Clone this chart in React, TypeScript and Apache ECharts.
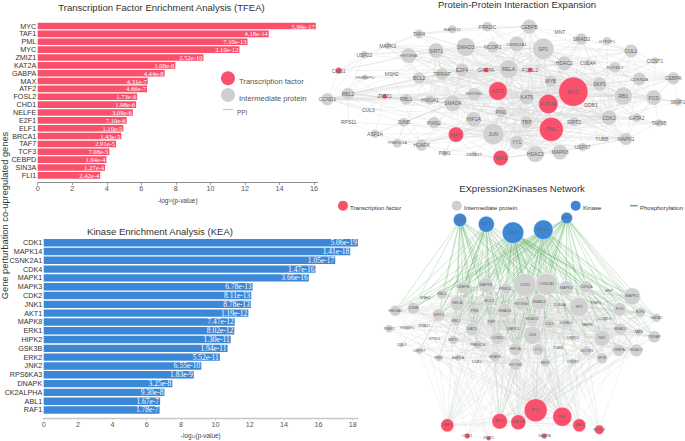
import React, { useEffect, useRef } from "react";
import * as echarts from "echarts";

// ---------- bar chart data ----------
const tfeaNames = ["MYC","TAF1","PML","MYC","ZMIZ1","KAT2A","GABPA","MAX","ATF2","FOSL2","CHD1","NELFE","E2F1","ELF1","BRCA1","TAF7","TCF3","CEBPD","SIN3A","FLI1"];
const tfeaValues = [16.1,13.38,12.15,11.68,9.6,7.97,7.35,6.37,6.33,5.76,5.7,5.51,5.15,4.96,4.84,4.54,4.15,3.98,3.9,3.62];
const tfeaP = ["5.99e-17","4.18e-14","7.10e-13","2.10e-12","2.52e-10","1.08e-8","4.44e-8","4.31e-7","4.66e-7","1.73e-6","1.98e-6","3.09e-6","7.10e-6","1.10e-5","1.43e-5","2.91e-5","7.08e-5","1.04e-4","1.27e-4","2.42e-4"];

const keaNames = ["CDK1","MAPK14","CSNK2A1","CDK4","MAPK1","MAPK3","CDK2","JNK1","AKT1","MAPK8","ERK1","HIPK2","GSK3B","ERK2","JNK2","RPS6KA3","DNAPK","CK2ALPHA","ABL1","RAF1"];
const keaValues = [18.3,17.85,16.98,15.83,15.44,12.17,12.09,12.06,11.92,11.13,11.1,10.89,10.71,10.26,9.18,8.74,7.49,7.03,6.78,6.75];
const keaP = ["5.06e-19","1.41e-18","1.05e-17","1.47e-16","3.66e-16","6.78e-13","8.11e-13","8.78e-13","1.19e-12","7.47e-12","8.02e-12","1.30e-11","1.94e-11","5.52e-11","6.55e-10","1.83e-9","3.25e-8","9.30e-8","1.67e-7","1.78e-7"];

// ---------- network data: [protein, layout x, layout y, weight] ----------
type Node = [string, number, number, number];
const ppiFactors: Node[] = [
  ["MYC",760,275,88],["PML",694,388,72],["KAT2A",685,312,58],["ATF2",534,273,56],["MAX",408,404,46],
  ["TAF1",542,474,46],["CHD1",56,212,20],["ZMIZ1",194,289,16],["GABPA",498,210,16],["FOSL2",630,210,16],
];
const ppiIntermediates: Node[] = [
  ["SP1",670,147,64],["SMAD3",437,141,56],["RELA",566,207,56],["JUN",520,402,64],["CEBPB",628,80,44],
  ["PRKDC",502,80,30],["MAPK11",397,88,26],["TAF4",297,102,28],["MAPK3",203,137,22],["USP22",133,164,24],
  ["HIST1H3A",266,167,46],["SIRT1",348,152,46],["NCOR1",518,142,36],["CSNK2A1",590,132,46],["MNT",720,96,4],
  ["SMAD2",784,117,36],["GTF2F1",861,123,26],["CUL1",933,153,40],["CCNT1",1005,182,22],["HDAC2",733,190,44],
  ["CUL4A",804,188,20],["RUVBL2",885,202,34],["CDKN2A",958,237,40],["CEBPA",1060,235,38],["SKP1",839,252,42],
  ["MYB",692,244,36],["TRRAP",366,222,38],["E2F4",426,210,40],["BCL2",297,234,36],["MSH2",215,222,4],
  ["HNRNPU",135,232,18],["RBL2",84,282,38],["CCND1",22,298,38],["RBL1",259,298,34],["HMGA1",330,300,30],
  ["SMAD4",398,310,50],["HIST1H4S",462,283,40],["KAT5",620,291,46],["PIN1",543,336,34],["RB1",910,288,54],
  ["FOS",1001,293,46],["SNIP1",1074,306,24],["DDB1",813,314,4],["CDK2",867,353,46],["GATA2",950,353,28],
  ["TAF9B",1017,369,24],["SIRT2",762,365,30],["TBP",620,367,38],["HIF1A",461,358,46],["PIAS2",342,368,36],
  ["JUNB",251,367,28],["CUL3",145,330,4],["RPS11",86,366,4],["ASF1A",165,401,26],["PPARGC1A",232,430,28],
  ["H2AFX",305,435,36],["PIM1",374,460,18],["ZBTB17",462,462,18],["YY1",590,427,42],["HDAC3",646,462,50],
  ["MAPK8",720,456,46],["USP37",788,441,26],["TUBB",846,418,4],["MAPK1",918,417,38],
];
const e2kKinases: Node[] = [
  ["CDK4",460,220,13.3],["AKT1",486.3,224.3,16],["CDK1",513,232.7,21.5],["MAPK14",543.3,229.7,19.5],["JNK1",566.7,218,11.5],
];
const e2kFactors: Node[] = [
  ["MYC",535.7,410.3,23],["PML",562.3,416.7,19],["ATF2",499.7,421.3,15.5],["KAT2A",518.3,422.3,15],["MAX",579.3,425.3,13],
  ["TAF1",447.3,425.3,13],["FOSL2",599.3,429.7,9.5],["CHD1",467.3,436,5.5],["ZMIZ1",488.7,438.3,4.5],["GABPA",544.3,436,5.5],
];
const e2kIntermediates: Node[] = [
  ["CDK2",525,285,23],["CSNK2A1",546.7,284.3,22],["MAPK3",566.3,288,14.5],["CDKN2A",586,286.7,12],["MNT",609.3,291,2],
  ["MAPK1",632,296.3,17],["FOS",619.7,309.3,13.5],["E2F4",640.3,312.3,10],["GATA2",656.3,317.7,9],["SP1",579,307,19],
  ["SNIP1",595.7,302.7,4],["CUL4A",559.7,304.7,5],["SMAD3",539,302,16],["HIST1H3A",521,303.7,13],["SMAD4",504.7,310.7,14],
  ["HDAC3",532.3,319,12],["CUL1",549.3,323.7,10],["RUVBL2",566,323.3,9],["TAF9B",587,325.3,5],["CCNT1",604.7,319.3,6],
  ["SMAD2",620.3,329.3,12],["TAF4",638.7,332,7.5],["TRRAP",654.3,336.7,12],["RB1",602,338.3,16],["USP22",573,338.3,6],
  ["JUN",532.3,335.3,18],["MAPK11",513.3,329,8],["CCND1",497.3,338.3,12.5],["HIF1A",515.3,349.3,12.5],["YY1",538,349.7,12],
  ["TUBB",558,347.7,3],["NCOR1",586.7,351,10],["CEBPA",618.7,350.3,12],["HDAC2",636.3,350.3,12.5],["MYB",602,358.3,11],
  ["H2AFX",495,356.7,10.5],["HIST1H4S",515.7,364.3,12.5],["SKP1",545.3,362.7,9],["GTF2F1",572.7,361.7,7],
  ["HMGA1",395.3,310.7,11],["JUNB",413.3,308.3,12],["SIRT1",438.7,315,12.5],["RELA",457.3,303.3,15],["PIN1",474.7,310.7,9.5],
  ["BCL2",489.3,300.7,11],["RBL1",456,321.3,9],["KAT5",472,329.3,13],["TBP",491.3,322,10],["SIRT2",453.3,340,9],
  ["RPS11",434.7,339.3,2],["ASF1A",458,357.7,7],["PIM1",438.7,358,7],["USP37",419.3,350.7,7],["CUL3",401.3,345,5],
  ["PIAS2",389,328.7,8],["HNRNPU",407.3,328.3,4],["ZBTB17",424,326,4],["PPARGC1A",477.7,344.7,9],["DDB1",476.7,362.3,2],
  ["MSH2",425.3,298.3,4],["RBL2",442,294.3,10],["CEBPB",463,287.3,12.5],["MAPK8",485.7,285.3,15],["PRKDC",506,288.7,11],
];

// Interactions: the first protein of each row is linked to each of the others.
const ppiRows = [
  "MYC SP1 SMAD3 RELA HDAC2 HDAC3 SKP1 MYB RB1 FOS CDK2 TBP JUN YY1 KAT5 KAT2A PML PIN1 MAX TAF1 SMAD2 CUL1 CDKN2A CEBPA CEBPB SIRT1 E2F4 SMAD4 TRRAP BCL2 NCOR1 CSNK2A1 PRKDC CCNT1 RUVBL2 MAPK1 TUBB USP37 GTF2F1 CUL4A SNIP1 GATA2 HMGA1 HIST1H4S ATF2 CCND1 H2AFX",
  "PML SP1 SMAD3 RELA HDAC3 HDAC2 TBP JUN YY1 KAT5 KAT2A SIRT1 SIRT2 MAPK1 CDK2 RB1 FOS SKP1 SMAD4 PIAS2 HIF1A ATF2 TAF1 MAX CEBPB CSNK2A1 E2F4 BCL2 NCOR1 TAF9B MAPK8 GATA2 USP37 CUL1 PPARGC1A HIST1H3A",
  "KAT2A SP1 SMAD3 RELA JUN TBP YY1 HDAC3 HDAC2 KAT5 ATF2 MAX TAF1 CEBPB E2F4 MYB SMAD2 SMAD4 TRRAP FOS CDK2 PIN1 H2AFX HIST1H4S HIST1H3A TAF4 TAF9B RUVBL2 CUL4A SKP1 NCOR1",
  "ATF2 JUN SMAD3 SMAD4 SMAD2 CEBPB CEBPA RELA HDAC3 TBP FOS MAPK8 MAPK1 SP1 PIN1 HIF1A E2F4 RB1 BCL2 HMGA1 SIRT1 MAX PIAS2",
  "JUN SP1 SMAD3 SMAD4 RELA FOS TBP YY1 HDAC3 HDAC2 CDK2 RB1 SMAD2 MAPK8 MAPK1 HIF1A PIN1 E2F4 JUNB MAX TAF1 CCND1 H2AFX PIM1 ZBTB17 PIAS2 PPARGC1A ASF1A HMGA1 TUBB USP37 SIRT1 SIRT2 MAPK3 RBL1 CSNK2A1 KAT5 CEBPB",
  "SP1 SMAD3 SMAD4 SMAD2 RELA HDAC2 HDAC3 TBP YY1 FOS CDK2 RB1 SKP1 E2F4 CEBPB CEBPA NCOR1 CSNK2A1 SIRT1 HIF1A PRKDC GATA2 RBL1 MAPK1 TAF1 CDKN2A",
  "RELA SMAD3 SMAD4 HDAC2 HDAC3 TBP YY1 CEBPB CEBPA NCOR1 SIRT1 E2F4 CSNK2A1 PRKDC TRRAP BCL2 PIN1 HIF1A FOS MAPK3 MAPK1 HMGA1 HIST1H3A RBL2 SKP1 CUL1 CCND1 USP22 RBL1 GABPA",
  "SMAD3 SMAD4 SMAD2 HDAC3 HDAC2 E2F4 TRRAP CEBPB FOS MAPK3 MAPK1 MAPK8 CDK2 SIRT1 NCOR1 PRKDC RBL1 RBL2 SKP1 CUL1 TAF4 USP22 HMGA1 TBP HIF1A PIAS2 BCL2",
  "SMAD4 E2F4 TRRAP HDAC3 SKP1 MAPK3 MAPK1 RBL1 RBL2 CDK2 HIF1A SMAD2 PIAS2 JUNB CCND1 TBP HMGA1 SIRT1 BCL2 HIST1H4S H2AFX ASF1A",
  "HDAC3 HDAC2 NCOR1 SIRT1 SIRT2 RB1 RBL1 RBL2 E2F4 TBP YY1 CDK2 HIF1A MAPK8 CEBPB PIN1 TAF1 KAT5 HIST1H4S CUL4A DDB1 MAPK1",
  "HDAC2 NCOR1 RB1 RBL1 RBL2 E2F4 SIRT1 CCND1 CDK2 TBP YY1 CDKN2A SKP1 CUL1 SMAD2 MYB GATA2 CEBPA CUL4A DDB1 CCNT1",
  "CDK2 RB1 RBL1 RBL2 CCND1 CDKN2A E2F4 SKP1 CUL1 CUL3 CUL4A TBP TUBB USP37 MAPK1 FOS PIN1 BCL2 HIF1A GTF2F1 CCNT1 MAPK3 PIM1 SNIP1 TAF9B RUVBL2 DDB1 GATA2 SIRT2",
  "RB1 E2F4 RBL1 RBL2 CCND1 CDKN2A SKP1 CUL1 TBP FOS GATA2 MYB CEBPA SMAD2 HMGA1 TAF4 RUVBL2 SNIP1",
  "MAPK1 MAPK3 MAPK8 FOS CSNK2A1 GATA2 SMAD2 TUBB HIF1A PRKDC CEBPB CDKN2A TAF9B USP37 RPS11",
  "TBP GTF2F1 TAF1 TAF4 TAF9B YY1 HMGA1 KAT5 MAX FOS CCNT1 TRRAP CEBPA GATA2 CSNK2A1 NCOR1 SMAD2",
  "CSNK2A1 CEBPB PRKDC SIRT1 HIST1H3A NCOR1 RUVBL2 TAF1 MAX CUL1 SKP1 HMGA1 E2F4 MYB",
  "SKP1 CUL1 CUL3 CUL4A CCND1 CDKN2A MYB RUVBL2 SMAD2 E2F4 TUBB DDB1 FOSL2",
  "FOS SMAD2 CEBPA CDKN2A TBP SNIP1 GATA2 TAF9B RUVBL2 CCNT1 MAPK3",
  "TAF1 TAF4 YY1 MAX HIF1A KAT5 MAPK8 PIM1 ZBTB17 H2AFX PIN1 CDK2 USP37",
  "MAX YY1 H2AFX HIF1A PIAS2 JUNB PPARGC1A E2F4 KAT5 SIRT1 ZBTB17 PIM1",
  "SIRT1 HIST1H3A HIST1H4S TRRAP E2F4 MAPK3 USP22 BCL2 HMGA1 HIF1A TAF4 PPARGC1A CHD1 MSH2 PIAS2",
  "KAT5 TRRAP RUVBL2 E2F4 HIST1H4S SIRT2 HIF1A CCND1 H2AFX YY1 PIN1 FOSL2",
  "CCND1 RBL2 RBL1 E2F4 HMGA1 CUL3 BCL2 JUNB USP22 ZMIZ1 CHD1 HNRNPU",
  "RBL2 RBL1 E2F4 HMGA1 BCL2 HNRNPU USP22 RPS11 CUL3",
  "BCL2 E2F4 TRRAP HIST1H3A MAPK3 HMGA1 RBL1 MAPK8 PIN1 MSH2 HNRNPU",
  "HIST1H4S HIST1H3A H2AFX ASF1A PIAS2 HMGA1 JUNB ZMIZ1 PIM1",
  "H2AFX PPARGC1A ASF1A JUNB MSH2 PIM1",
  "PPARGC1A HIF1A CEBPB JUNB ASF1A RPS11",
  "CEBPB CEBPA PRKDC MAPK11 TAF4 GABPA FOSL2 MNT",
  "CUL1 CUL4A CCNT1 GTF2F1 SMAD2 RUVBL2 MNT CDKN2A",
  "CEBPA GTF2F1 CDKN2A GATA2 SNIP1",
  "YY1 USP37 TUBB MAPK8 SIRT2 HIF1A DDB1",
  "TAF4 USP22 MAPK11 MAPK3 PRKDC",
  "MYB CCNT1 SNIP1 SIRT2 NCOR1 TUBB",
  "E2F4 CHD1 GABPA FOSL2 TRRAP HNRNPU",
  "CHD1 USP22 HIST1H3A MAPK3 ZMIZ1",
  "ZMIZ1 RBL1 RPS11 HMGA1 ASF1A",
];

const phosphoRows = [
  "CDK4 HMGA1 JUNB SIRT1 RBL1 RBL2 RELA CEBPB KAT5 PIN1 BCL2 TBP SMAD4 SMAD3 CDK2 CCND1 HIF1A MAPK8 RB1 TAF1 PPARGC1A PRKDC MAPK3 SP1",
  "AKT1 HMGA1 JUNB SIRT1 RELA RBL2 RBL1 CEBPB MAPK8 BCL2 SMAD4 SMAD3 KAT5 TBP HDAC3 SP1 FOS CUL4A CDK2 HIF1A TAF1 MAX ATF2 PIM1 USP37 SIRT2 CSNK2A1 MAPK1 PRKDC",
  "CDK1 HMGA1 JUNB SIRT1 RELA RBL1 RBL2 CEBPB MAPK8 PRKDC CDK2 CSNK2A1 MAPK3 CDKN2A MNT MAPK1 FOS E2F4 GATA2 SP1 SNIP1 SMAD3 SMAD4 HIST1H3A HDAC3 CUL1 RUVBL2 TBP PIN1 BCL2 KAT5 JUN YY1 HIF1A CCND1 RB1 SMAD2 TAF4 TRRAP MYB ATF2 KAT2A MYC PML TAF1 FOSL2",
  "MAPK14 JUNB SIRT1 RELA RBL1 CEBPB MAPK8 CDK2 CSNK2A1 MAPK3 CDKN2A MAPK1 FOS E2F4 GATA2 SP1 SMAD3 SMAD4 HIST1H4S HDAC3 CUL4A TBP PIN1 KAT5 JUN HIF1A RB1 TRRAP SMAD2 ATF2 MYC PML MAX FOSL2 TAF1 USP22 CEBPA HDAC2 SKP1 PRKDC HMGA1 RBL2",
  "JNK1 SIRT1 RELA CEBPB MAPK8 PRKDC CDK2 CSNK2A1 MAPK3 CDKN2A MAPK1 FOS E2F4 GATA2 TRRAP SP1 SMAD4 HDAC3 JUN YY1 HIF1A RB1 SMAD2 ATF2 PML FOSL2 MAX BCL2 TBP KAT5 H2AFX RBL2 JUNB",
];

const RED = "#f9506c";
const GRAY = "#d1d1d1";
const BLUE = "#3d88d6";
const GREEN = "#5cae63";

function parseRows(rows: string[]) {
  const pairs: [string, string][] = [];
  const seen = new Set<string>();
  rows.forEach((row) => {
    const [hub, ...others] = row.split(" ");
    others.forEach((o) => {
      const k = [hub, o].sort().join("|");
      if (!seen.has(k) && hub !== o) { seen.add(k); pairs.push([hub, o]); }
    });
  });
  return pairs;
}

function nodeItems(list: Node[], color: string, scale: number, big: number[]) {
  return list.map(([name, x, y, w]) => ({
    name,
    value: [x, y],
    symbolSize: w * scale,
    itemStyle: { color, borderColor: "#ffffff", borderWidth: 0.4 },
    label: {
      show: true,
      position: "inside",
      color: "#666666",
      fontFamily: "Liberation Sans",
      fontSize: name.length >= 8 ? big[2] : name.length >= 6 ? big[1] : big[0],
    },
  }));
}

function linkItems(pairs: [string, string][], names: Set<string>, color: string, width: number, opacity: number) {
  return pairs
    .filter(([a, b]) => names.has(a) && names.has(b))
    .map(([source, target]) => ({ source, target, lineStyle: { color, width, opacity, curveness: 0 } }));
}

function barParts(grid: number, names: string[], values: number[], ps: string[], color: string, max: number, offset: number, axisColor: string, axisWidth: number, labelSize: number) {
  return {
    x: {
      type: "value", gridIndex: grid, min: 0, max, interval: 2, offset,
      splitLine: { show: false },
      axisLine: { show: true, lineStyle: { color: axisColor, width: axisWidth } },
      axisTick: { show: true, length: 2.5, lineStyle: { color: axisColor, width: 0.8 } },
      axisLabel: { color: "#555555", fontSize: 7.2, margin: 2.5, fontFamily: "Liberation Sans", showMaxLabel: false },
      name: "{a|-log}{s|10}{a|(p-value)}",
      nameLocation: "middle",
      nameGap: 14.5,
      nameTextStyle: {
        rich: {
          a: { fontSize: 6.4, color: "#444444", fontFamily: "Liberation Sans" },
          s: { fontSize: 3.6, color: "#444444", fontFamily: "Liberation Sans", verticalAlign: "bottom" },
        },
      },
    },
    y: {
      type: "category", gridIndex: grid, inverse: true, data: names,
      axisLine: { show: false }, axisTick: { show: false },
      axisLabel: { color: "#333333", fontSize: 7.2, margin: 1.5, fontFamily: "Liberation Sans", interval: 0 },
    },
    series: {
      type: "bar", xAxisIndex: grid, yAxisIndex: grid, data: values, barWidth: "84%",
      itemStyle: { color }, silent: true,
      label: {
        show: true, position: "insideRight", distance: 1, color: "#ffffff",
        fontSize: labelSize, fontFamily: "Liberation Serif",
        formatter: (p: any) => ps[p.dataIndex],
      },
    },
  };
}

const hiddenAxis = (gridIndex: number, min: number, max: number, inverse = false) => ({
  type: "value", gridIndex, min, max, inverse, show: false, splitLine: { show: false },
});

export default function App() {
  const ref = useRef<HTMLDivElement>(null);
  useEffect(() => {
    const chart = echarts.init(ref.current!, undefined, { renderer: "svg" });
    const tf = barParts(0, tfeaNames, tfeaValues, tfeaP, RED, 16.2, 3.2, "#8c8c8c", 1, 6.6);
    const ke = barParts(1, keaNames, keaValues, keaP, BLUE, 18.3, 3.6, "#c8c8c8", 1.4, 7.5);

    const ppiPairs = parseRows(ppiRows);
    const phospho = parseRows(phosphoRows);
    const ppiAll = [...ppiFactors, ...ppiIntermediates];
    const e2kAll = [...e2kKinases, ...e2kFactors, ...e2kIntermediates];
    const ppiNames = new Set(ppiAll.map((n) => n[0]));
    const e2kNames = new Set(e2kAll.map((n) => n[0]));
    const e2kGrayNames = new Set([...e2kKinases, ...e2kIntermediates].map((n) => n[0]));
    const e2kRedNames = new Set([...e2kKinases, ...e2kFactors].map((n) => n[0]));

    const txt = (text: string, x: number, y: number, fontSize: number, fill = "#444444") => ({
      type: "text", x, y, silent: true,
      style: { text, fontSize, fill, fontFamily: "Liberation Sans", verticalAlign: "middle" },
    });
    const dot = (cx: number, cy: number, r: number, fill: string) => ({
      type: "circle", silent: true, shape: { cx, cy, r }, style: { fill },
    });
    const seg = (x1: number, y1: number, x2: number, y2: number, stroke: string, lineWidth: number) => ({
      type: "line", silent: true, shape: { x1, y1, x2, y2 }, style: { stroke, lineWidth },
    });

    chart.setOption({
      animation: false,
      backgroundColor: "#ffffff",
      title: [
        ["Transcription Factor Enrichment Analysis (TFEA)", 161.5, 2.5],
        ["Kinase Enrichment Analysis (KEA)", 160, 226.5],
        ["Protein-Protein Interaction Expansion", 517, -0.5],
        ["EXpression2Kinases Network", 522, 183.5],
      ].map(([text, left, top]) => ({
        text, left, top, textAlign: "center", padding: 0,
        textStyle: { fontSize: 9.55, fontWeight: "normal", color: "#333333", fontFamily: "Liberation Sans" },
      })),
      grid: [
        { left: 37.7, top: 22.1, width: 279.8, height: 157.2 },
        { left: 43.7, top: 238.3, width: 314.2, height: 176.1 },
        { left: 320, top: 0, width: 365, height: 180 },
        { left: 320, top: 180, width: 365, height: 261 },
      ],
      xAxis: [tf.x, ke.x, hiddenAxis(2, 0, 1095), hiddenAxis(3, 320, 685)],
      yAxis: [tf.y, ke.y, hiddenAxis(2, 0, 540, true), hiddenAxis(3, 180, 441, true)],
      series: [
        tf.series,
        ke.series,
        {
          type: "graph", layout: "none", coordinateSystem: "cartesian2d", xAxisIndex: 2, yAxisIndex: 2,
          silent: true, edgeSymbol: ["none", "none"],
          data: [
            ...nodeItems(ppiIntermediates, GRAY, 1 / 3, [5, 4.4, 3.5]),
            ...nodeItems(ppiFactors, RED, 1 / 3, [5, 4.4, 3.5]),
          ],
          links: linkItems(ppiPairs, ppiNames, "#d2d2d2", 0.55, 0.55),
        },
        {
          type: "graph", layout: "none", coordinateSystem: "cartesian2d", xAxisIndex: 3, yAxisIndex: 3,
          silent: true, edgeSymbol: ["none", "none"],
          data: [
            ...nodeItems(e2kIntermediates, GRAY, 1, [3.8, 3.3, 2.8]),
            ...nodeItems(e2kFactors, RED, 1, [3.8, 3.3, 2.8]),
            ...nodeItems(e2kKinases, BLUE, 1, [3.8, 3.3, 2.8]),
          ],
          links: [
            ...linkItems(ppiPairs, e2kNames, "#d2d2d2", 0.5, 0.5),
            ...linkItems(phospho, e2kGrayNames, GREEN, 0.6, 0.45),
            ...linkItems(phospho, e2kRedNames, GREEN, 0.5, 0.25),
          ],
        },
      ],
      graphic: [
        {
          type: "text", x: 9.7, y: 215.5, rotation: Math.PI / 2, silent: true,
          style: {
            text: "Gene perturbation co-upregulated genes", fontSize: 9.3, fill: "#333333",
            fontFamily: "Liberation Sans", align: "center", verticalAlign: "bottom",
          },
        },
        dot(228, 78.3, 7, RED),
        dot(228, 95, 7, "#cfcfcf"),
        seg(223, 109.5, 233, 109.5, "#c8c8c8", 1.2),
        txt("Transcription factor", 239, 81.5, 7.6, "#555555"),
        txt("Intermediate protein", 239, 98, 7.6, "#555555"),
        txt("PPI", 237, 112.5, 6.4, "#555555"),
        dot(343, 205.7, 5, RED),
        dot(456.7, 205.7, 5, "#cfcfcf"),
        dot(575.7, 205.7, 5, BLUE),
        seg(630, 205.7, 637.7, 205.7, GREEN, 1.4),
        txt("Transcription factor", 350, 207.5, 6, "#333333"),
        txt("Intermediate protein", 464, 207.5, 6, "#333333"),
        txt("Kinase", 583, 207.5, 6, "#333333"),
        txt("Phosphorylation", 640, 207.5, 6, "#333333"),
      ],
    });
    return () => chart.dispose();
  }, []);
  return <div ref={ref} style={{ position: "fixed", left: 0, top: 0, width: 685, height: 441, background: "#fff" }} />;
}
